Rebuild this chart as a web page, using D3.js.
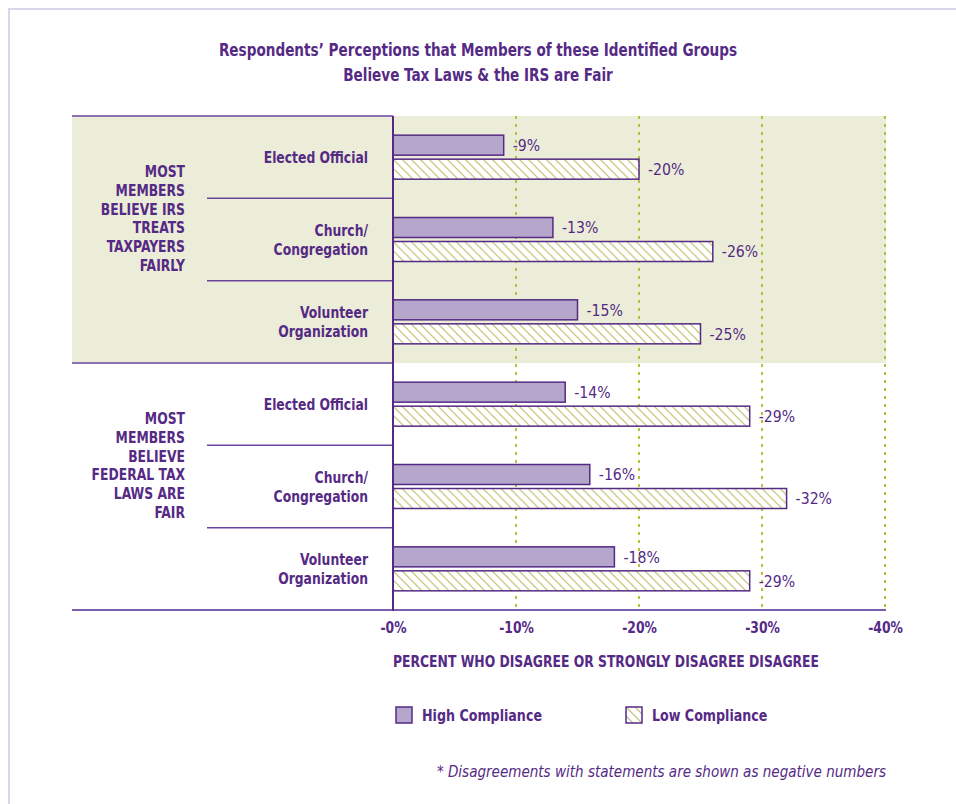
<!DOCTYPE html>
<html>
<head>
<meta charset="utf-8">
<script src="https://cdn.jsdelivr.net/npm/d3@7"></script>
<style>
  body { margin: 0; background: #fff; }
  svg text { font-family: "Liberation Sans Narrow", "DejaVu Sans Condensed", "Roboto", sans-serif; fill: #552a85; }
</style>
</head>
<body>
<svg id="chart"></svg>
<script>
// Data
const groups = ["MOST MEMBERS BELIEVE IRS TREATS TAXPAYERS FAIRLY", "MOST MEMBERS BELIEVE FEDERAL TAX LAWS ARE FAIR"]
const groupLines = [
  ["MOST", "MEMBERS", "BELIEVE IRS", "TREATS", "TAXPAYERS", "FAIRLY"],
  ["MOST", "MEMBERS", "BELIEVE", "FEDERAL TAX", "LAWS ARE", "FAIR"]
]
const categories = [
  ["Elected Official"], ["Church/", "Congregation"], ["Volunteer", "Organization"],
  ["Elected Official"], ["Church/", "Congregation"], ["Volunteer", "Organization"]
]
const categoryGroup = [0, 0, 0, 1, 1, 1]
const series = ["High Compliance", "Low Compliance"]
const highCompliance = [-9, -13, -15, -14, -16, -18]
const lowCompliance = [-20, -26, -25, -29, -32, -29]
const xTicks = [0, -10, -20, -30, -40]

const width = 956, height = 804
const purple = "#552a85"
const lineCol = "#6a45a0"
const squeeze = 0.86

const svg = d3.select("#chart").attr("width", width).attr("height", height)

// squeeze text horizontally around its anchor x to get a condensed look
const condense = (sel, ax, k = squeeze) =>
  sel.attr("transform", "translate(" + ax + ",0) scale(" + k + ",1) translate(" + (-ax) + ",0)")

// hatch pattern for low compliance
const defs = svg.append("defs")
const pat = defs.append("pattern")
  .attr("id", "hatch")
  .attr("patternUnits", "userSpaceOnUse")
  .attr("width", 9).attr("height", 9)
pat.append("rect").attr("width", 9).attr("height", 9).attr("fill", "#fff")
pat.append("path")
  .attr("d", "M-2,-2 L11,11 M-2,7 L2,11 M7,-2 L11,2")
  .attr("stroke", "#bcbe6c").attr("stroke-width", 1.2)

// outer frame (light lavender)
svg.append("line").attr("x1", 8).attr("x2", width).attr("y1", 9).attr("y2", 9)
  .attr("stroke", "#dcd5ea").attr("stroke-width", 2)
svg.append("line").attr("x1", 9).attr("x2", 9).attr("y1", 8).attr("y2", height)
  .attr("stroke", "#dcd5ea").attr("stroke-width", 2)

// scales
const x = d3.scaleLinear().domain([0, -40]).range([393, 885])
const idx = d3.range(categories.length)
const y = d3.scaleBand().domain(idx).range([116, 610]).padding(0)
const ySub = d3.scaleBand().domain(series).range([0, 44]).paddingInner(0.167)
const barOffset = (y.bandwidth() - 44) / 2

// shaded first group
svg.append("rect")
  .attr("x", 72).attr("y", y(0))
  .attr("width", 886 - 72).attr("height", y(3) - y(0))
  .attr("fill", "#ecedd8")

// dotted grid lines
svg.append("g").selectAll("line")
  .data(xTicks.slice(1))
  .join("line")
  .attr("x1", d => x(d)).attr("x2", d => x(d))
  .attr("y1", y(0)).attr("y2", 610)
  .attr("stroke", "#b7c03c").attr("stroke-width", 2)
  .attr("stroke-dasharray", "3,5")

// group separators
const groupEdges = [y(0), y(3)]
svg.append("g").selectAll("line")
  .data(groupEdges)
  .join("line")
  .attr("x1", 72).attr("x2", 393)
  .attr("y1", d => d).attr("y2", d => d)
  .attr("stroke", lineCol).attr("stroke-width", 1.5)

// category separators
svg.append("g").selectAll("line")
  .data([1, 2, 4, 5])
  .join("line")
  .attr("x1", 207).attr("x2", 393)
  .attr("y1", d => y(d)).attr("y2", d => y(d))
  .attr("stroke", lineCol).attr("stroke-width", 1.5)

// bottom axis line
svg.append("line")
  .attr("x1", 72).attr("x2", 886)
  .attr("y1", 610).attr("y2", 610)
  .attr("stroke", "#7b5eab").attr("stroke-width", 2)

// bars
const rows = idx.map(i => ({ i, vals: [highCompliance[i], lowCompliance[i]] }))
const barG = svg.append("g").selectAll("g")
  .data(rows)
  .join("g")
  .attr("transform", d => "translate(0," + (y(d.i) + barOffset) + ")")

barG.selectAll("rect")
  .data(d => d.vals.map((v, k) => ({ v, s: series[k] })))
  .join("rect")
  .attr("x", x(0))
  .attr("y", d => ySub(d.s))
  .attr("width", d => x(d.v) - x(0))
  .attr("height", ySub.bandwidth())
  .attr("fill", d => d.s === series[0] ? "#b5a6cb" : "url(#hatch)")
  .attr("stroke", purple).attr("stroke-width", 1.5)

barG.selectAll("text")
  .data(d => d.vals.map((v, k) => ({ v, s: series[k] })))
  .join("text")
  .attr("x", d => x(d.v) + 9)
  .attr("y", d => ySub(d.s) + ySub.bandwidth() / 2)
  .attr("dy", "0.35em")
  .attr("font-size", 16.5)
  .text(d => d.v + "%")
  .each(function(d) { condense(d3.select(this), x(d.v) + 9, 0.95) })

// vertical zero axis
svg.append("line")
  .attr("x1", x(0)).attr("x2", x(0))
  .attr("y1", y(0)).attr("y2", 611)
  .attr("stroke", purple).attr("stroke-width", 2)

// category labels
svg.append("g").selectAll("text")
  .data(idx)
  .join("text")
  .attr("text-anchor", "end")
  .attr("font-weight", "bold")
  .attr("font-size", 16)
  .attr("x", 368)
  .attr("y", i => y(i) + y.bandwidth() / 2 - (categories[i].length - 1) * 9.5)
  .call(condense, 368)
  .each(function(i) {
    const t = d3.select(this)
    categories[i].forEach((line, k) => {
      t.append("tspan").attr("x", 368).attr("dy", k === 0 ? "0.35em" : 19).text(line)
    })
  })

// group labels (sit a little above the middle of their group)
svg.append("g").selectAll("text")
  .data(groups)
  .join("text")
  .attr("text-anchor", "end")
  .attr("font-weight", "bold")
  .attr("font-size", 16)
  .attr("y", (g, gi) => {
    const first = categoryGroup.indexOf(gi)
    const mid = (y(first) + y(first + 2) + y.bandwidth()) / 2 - 21
    return mid - (groupLines[gi].length - 1) * 18.7 / 2
  })
  .call(condense, 185)
  .each(function(g, gi) {
    const t = d3.select(this)
    groupLines[gi].forEach((line, k) => {
      t.append("tspan").attr("x", 185).attr("dy", k === 0 ? "0.35em" : 18.7).text(line)
    })
  })

// x axis tick labels
const xAxis = d3.axisBottom(x)
  .tickValues(xTicks)
  .tickSize(0)
  .tickPadding(0)
  .tickFormat(d => "-" + Math.abs(d) + "%")
const axG = svg.append("g")
  .attr("transform", "translate(0,627)")
  .call(xAxis)
axG.select(".domain").remove()
axG.attr("font-family", null)
axG.selectAll("text")
  .attr("font-size", 16)
  .attr("font-weight", "bold")
  .attr("dy", "0.35em")
  .attr("transform", "scale(" + squeeze + ",1)")
  .style("fill", purple)

// x axis title
svg.append("text")
  .attr("x", 393).attr("y", 667)
  .attr("font-size", 16).attr("font-weight", "bold")
  .call(condense, 393)
  .text("PERCENT WHO DISAGREE OR STRONGLY DISAGREE DISAGREE")

// title
svg.append("text")
  .attr("x", 478).attr("y", 56)
  .attr("text-anchor", "middle")
  .attr("font-size", 18).attr("font-weight", "bold")
  .call(condense, 478, 0.84)
  .text("Respondents\u2019 Perceptions that Members of these Identified Groups")
svg.append("text")
  .attr("x", 478).attr("y", 81)
  .attr("text-anchor", "middle")
  .attr("font-size", 18).attr("font-weight", "bold")
  .call(condense, 478, 0.84)
  .text("Believe Tax Laws & the IRS are Fair")

// legend
const legendX = [396, 626]
const lg = svg.append("g").selectAll("g")
  .data(series)
  .join("g")
  .attr("transform", (d, k) => "translate(" + legendX[k] + ",707)")
lg.append("rect")
  .attr("width", 16).attr("height", 16)
  .attr("fill", (d, k) => k === 0 ? "#b5a6cb" : "url(#hatch)")
  .attr("stroke", purple).attr("stroke-width", 1.5)
lg.append("text")
  .attr("x", 26).attr("y", 8).attr("dy", "0.35em")
  .attr("font-size", 16).attr("font-weight", "bold")
  .call(condense, 26, 0.88)
  .text(d => d)

// footnote
svg.append("text")
  .attr("x", 886).attr("y", 777)
  .attr("text-anchor", "end")
  .attr("font-size", 16).attr("font-style", "italic")
  .call(condense, 886, 0.94)
  .text("* Disagreements with statements are shown as negative numbers")
</script>
</body>
</html>
